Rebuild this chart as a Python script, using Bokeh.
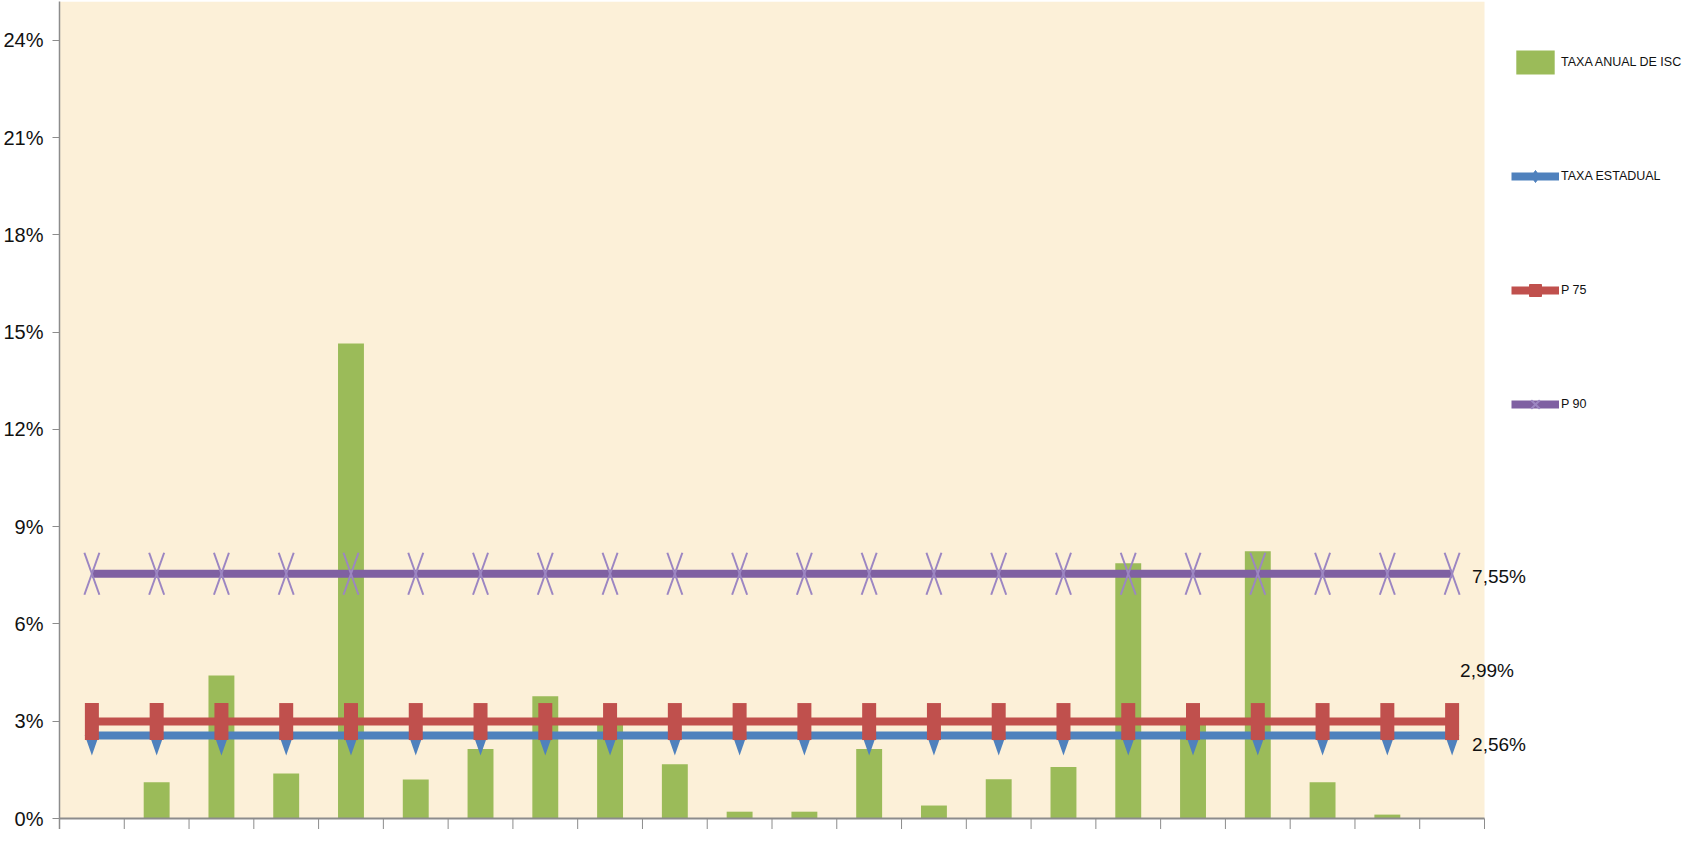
from bokeh.plotting import figure
from bokeh.models import Range1d, FixedTicker, Label, Legend, LegendItem
from bokeh.embed import file_html
from bokeh.resources import INLINE

# ---------------- data ----------------
categorias = [str(i) for i in range(1, 23)]
taxa_anual_isc = [0.0, 1.12, 4.41, 1.39, 14.65, 1.20, 2.14, 3.77, 2.95, 1.67, 0.21,
                  0.21, 2.14, 0.40, 1.21, 1.59, 7.87, 2.92, 8.24, 1.12, 0.12, 0.0]
taxa_estadual_valor = 2.56
p75_valor = 2.99
p90_valor = 7.55
rotulo_estadual = "2,56%"
rotulo_p75 = "2,99%"
rotulo_p90 = "7,55%"
y_ticks = [0, 3, 6, 9, 12, 15, 18, 21, 24]
y_tick_labels = ["0%", "3%", "6%", "9%", "12%", "15%", "18%", "21%", "24%"]
nomes_series = ["TAXA ANUAL DE ISC", "TAXA ESTADUAL", "P 75", "P 90"]

# ---------------- style ----------------
FONT = "Liberation Sans"
GREEN, BLUE, RED, PURPLE, PURPLE_X = "#9BBB59", "#4F81BD", "#C0504D", "#7F60A2", "#9C86C2"
BEIGE = "#FCF0D8"
AXIS = "#8C8C8C"

n = len(categorias)
W, H = 1689, 829
ML, MT = 59, 1
plot_w = 1425            # width in px of the textured plot area (x 0..n)
plot_h = 817             # height in px from 0% to the top of the plot area
y_max = 25.2
frame_w = W - ML
frame_h = H - MT
px_x = n / plot_w        # data units per screen pixel (x)
px_y = y_max / plot_h    # data units per screen pixel (y)
x_max = frame_w * px_x
y_min = -(frame_h - plot_h) * px_y

xs = [i + 0.5 for i in range(n)]
estadual = [taxa_estadual_valor for _ in xs]
p75 = [p75_valor for _ in xs]
p90 = [p90_valor for _ in xs]
x_ticks = list(range(n + 1))

p = figure(width=W, height=H, output_backend="svg", toolbar_location=None,
           x_range=Range1d(0, x_max), y_range=Range1d(y_min, y_max),
           min_border_left=ML, min_border_right=0, min_border_top=MT, min_border_bottom=0,
           background_fill_color="white", border_fill_color="white", outline_line_color=None)
p.grid.visible = False
p.xaxis.visible = False

# textured plot area (beige)
p.quad(left=0, right=n, bottom=0, top=y_max, fill_color=BEIGE, line_color=None)

# y axis
ya = p.yaxis[0]
ya.ticker = FixedTicker(ticks=y_ticks)
ya.major_label_overrides = {t: lab for t, lab in zip(y_ticks, y_tick_labels)}
ya.major_tick_out = 7
ya.major_tick_in = 0
ya.minor_tick_out = 0
ya.minor_tick_in = 0
ya.axis_line_color = AXIS
ya.major_tick_line_color = AXIS
ya.axis_line_width = 1.5
ya.major_label_text_font = FONT
ya.major_label_text_font_size = "20px"
ya.major_label_text_color = "#111111"
ya.major_label_standoff = 9

# bars
bars = p.vbar(x=xs, top=taxa_anual_isc, bottom=0, width=0.40,
              fill_color=GREEN, line_color=None)

# category axis (line + boundary ticks)
p.segment(x0=[0], y0=[0], x1=[n], y1=[0], line_color=AXIS, line_width=2)
p.segment(x0=x_ticks, y0=[0 for _ in x_ticks], x1=x_ticks, y1=[y_min for _ in x_ticks],
          line_color=AXIS, line_width=1)

# TAXA ESTADUAL: line + narrow diamonds
l_est = p.line(xs, estadual, line_width=8, line_color=BLUE)
dx, dy = 7 * px_x, 20 * px_y
p.patches(xs=[[x, x + dx, x, x - dx] for x in xs],
          ys=[[v + dy, v, v - dy, v] for v in estadual],
          fill_color=BLUE, line_color=None)
leg_est = p.scatter(xs, estadual, marker="diamond", size=0, fill_color=BLUE, line_color=BLUE)

# P 75: line + tall rectangles
l_p75 = p.line(xs, p75, line_width=8, line_color=RED)
p.rect(xs, p75, width=14, height=37, width_units="screen", height_units="screen",
       fill_color=RED, line_color=None)
leg_p75 = p.scatter(xs, p75, marker="square", size=0, fill_color=RED, line_color=RED)

# P 90: line + narrow X markers
l_p90 = p.line(xs, p90, line_width=8, line_color=PURPLE)
hx, hy = 7.5 * px_x, 21 * px_y
p.segment(x0=[x - hx for x in xs], y0=[v + hy for v in p90],
          x1=[x + hx for x in xs], y1=[v - hy for v in p90],
          line_color=PURPLE_X, line_width=2)
p.segment(x0=[x - hx for x in xs], y0=[v - hy for v in p90],
          x1=[x + hx for x in xs], y1=[v + hy for v in p90],
          line_color=PURPLE_X, line_width=2)
leg_p90 = p.scatter(xs, p90, marker="x", size=0, line_color=PURPLE_X, line_width=2)

# data labels at the last point
for val, txt, xo, yo in [(p90_valor, rotulo_p90, 20, -3),
                         (p75_valor, rotulo_p75, 8, 51),
                         (taxa_estadual_valor, rotulo_estadual, 20, -9)]:
    p.add_layout(Label(x=xs[-1], y=val, text=txt, x_offset=xo, y_offset=yo,
                       text_baseline="middle", text_align="left",
                       text_font=FONT, text_font_size="19px", text_color="#111111"))

# legend
legend = Legend(items=[
    LegendItem(label=nomes_series[0], renderers=[bars]),
    LegendItem(label=nomes_series[1], renderers=[l_est, leg_est]),
    LegendItem(label=nomes_series[2], renderers=[l_p75, leg_p75]),
    LegendItem(label=nomes_series[3], renderers=[l_p90, leg_p90]),
], location=(1452, 410), orientation="vertical",
    glyph_width=48, glyph_height=30, label_height=30, spacing=84, padding=0, margin=0,
    label_standoff=2, label_text_font=FONT, label_text_font_size="12.5px",
    label_text_color="#111111", border_line_color=None, background_fill_alpha=0)
p.add_layout(legend, "center")

open("out.html", "w").write(file_html(p, INLINE))
